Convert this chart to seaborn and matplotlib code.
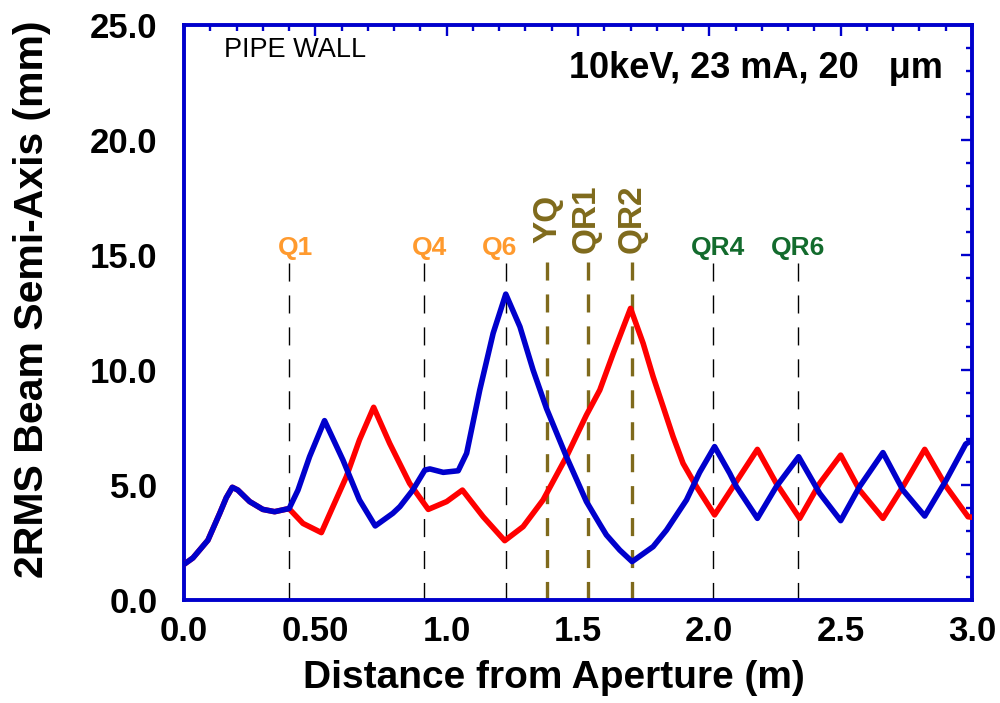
import matplotlib
matplotlib.use("Agg")
import matplotlib.pyplot as plt
import seaborn as sns
import pandas as pd
from matplotlib.ticker import MultipleLocator

# ---------------- data ----------------
blue_x = [0.0, 0.034, 0.091, 0.136, 0.161, 0.184, 0.205, 0.25, 0.30, 0.345, 0.389, 0.40,
          0.434, 0.478, 0.535, 0.605, 0.668, 0.728, 0.795, 0.822, 0.871, 0.917, 0.936,
          0.987, 1.044, 1.076, 1.126, 1.177, 1.225, 1.279, 1.329, 1.38, 1.456, 1.532,
          1.583, 1.608, 1.659, 1.706, 1.786, 1.837, 1.913, 1.963, 2.02, 2.078, 2.103,
          2.183, 2.255, 2.34, 2.42, 2.5, 2.572, 2.661, 2.737, 2.82, 2.902, 2.976, 3.0]
blue_y = [1.55, 1.83, 2.6, 3.77, 4.45, 4.9, 4.78, 4.28, 3.94, 3.84, 3.95, 3.97,
          4.78, 6.23, 7.8, 6.09, 4.35, 3.22, 3.77, 4.06, 4.78, 5.65, 5.70,
          5.55, 5.62, 6.38, 9.13, 11.6, 13.3, 11.88, 10.0, 8.33, 6.23, 4.28,
          3.3, 2.83, 2.17, 1.67, 2.32, 3.04, 4.35, 5.55, 6.67, 5.5, 4.93,
          3.55, 4.93, 6.23, 4.64, 3.45, 4.93, 6.41, 4.78, 3.65, 5.22, 6.78, 6.95]

red_x = [0.0, 0.034, 0.091, 0.136, 0.161, 0.184, 0.205, 0.25, 0.30, 0.345, 0.389, 0.40,
         0.453, 0.523, 0.567, 0.618, 0.668, 0.722, 0.783, 0.859, 0.93, 1.0, 1.06,
         1.139, 1.221, 1.291, 1.367, 1.456, 1.532, 1.583, 1.634, 1.70, 1.748, 1.786,
         1.824, 1.862, 1.9, 1.951, 2.02, 2.103, 2.183, 2.255, 2.344, 2.42, 2.5,
         2.572, 2.661, 2.737, 2.82, 2.902, 2.985, 3.0]
red_y = [1.55, 1.83, 2.6, 3.77, 4.45, 4.9, 4.78, 4.28, 3.94, 3.84, 3.95, 3.97,
         3.33, 2.93, 4.06, 5.36, 6.96, 8.38, 6.81, 5.07, 3.94, 4.28, 4.78,
         3.62, 2.58, 3.19, 4.35, 6.23, 8.04, 9.13, 10.72, 12.68, 11.16, 9.71,
         8.41, 7.1, 5.94, 4.93, 3.7, 5.15, 6.55, 5.07, 3.55, 5.07, 6.3,
         4.78, 3.55, 4.93, 6.55, 4.93, 3.62, 3.6]

quad_names = ["Q1", "Q4", "Q6", "QR4", "QR6"]
quad_pos = [0.398, 0.914, 1.224, 2.014, 2.336]
olive_names = ["YQ", "QR1", "QR2"]
olive_pos = [1.382, 1.538, 1.705]

xtick_vals = [0.0, 0.5, 1.0, 1.5, 2.0, 2.5, 3.0]
xtick_labels = ["0.0", "0.50", "1.0", "1.5", "2.0", "2.5", "3.0"]
ytick_vals = [0, 5, 10, 15, 20, 25]
ytick_labels = ["0.0", "5.0", "10.0", "15.0", "20.0", "25.0"]

title_text = "10keV, 23 mA, 20   \u03bcm"
wall_text = "PIPE WALL"
x_label = "Distance from Aperture (m)"
y_label = "2RMS Beam Semi-Axis (mm)"

# ---------------- style ----------------
sns.set_style("white")
plt.rcParams["font.family"] = ["Liberation Sans", "DejaVu Sans"]
plt.rcParams["lines.scale_dashes"] = False
plt.rcParams["text.color"] = "black"
plt.rcParams["axes.labelcolor"] = "black"
plt.rcParams["xtick.labelcolor"] = "black"
plt.rcParams["ytick.labelcolor"] = "black"

FRAME = "#0000CC"
BLUE = "#0000CC"
RED = "#FF0000"
ORANGE = "#FF9A2E"
GREEN = "#136B2D"
OLIVE = "#7F6A1C"

df = pd.concat([
    pd.DataFrame({"x": red_x, "y": red_y, "plane": "red"}),
    pd.DataFrame({"x": blue_x, "y": blue_y, "plane": "blue"}),
], ignore_index=True)

fig = plt.figure(figsize=(10, 7.03), dpi=100)
ax = fig.add_axes([0.184, 0.1465, 0.788, 0.8179])

# magnet markers
line_top = 14.65
for xp in quad_pos:
    ax.plot([xp, xp], [line_top, 0], color="black", lw=1.0, dashes=(13, 10), zorder=1)
for xp in olive_pos:
    ax.plot([xp, xp], [line_top + 0.05, 0], color=OLIVE, lw=2.4, dashes=(13, 10), zorder=1)

n_before = len(ax.get_lines())
sns.lineplot(data=df, x="x", y="y", hue="plane", hue_order=["red", "blue"],
             palette={"red": RED, "blue": BLUE}, estimator=None, sort=False,
             linewidth=4.0, legend=False, ax=ax, zorder=3)
for ln in ax.get_lines()[n_before:]:
    ln.set_linewidth(4.0)
    ln.set_solid_joinstyle("round")
    ln.set_solid_capstyle("round")

# labels for magnets
quad_label_dx = [0.026, 0.022, -0.022, 0.018, 0.003]
quad_colors = [ORANGE, ORANGE, ORANGE, GREEN, GREEN]
for name, xp, dx, c in zip(quad_names, quad_pos, quad_label_dx, quad_colors):
    ax.text(xp + dx, 15.0, name, color=c, fontsize=19, fontweight="bold",
            ha="center", va="baseline")
olive_label_dx = [0.003, -0.006, 0.002]
olive_label_y = [15.52, 15.09, 15.09]
for name, xp, dx, yb in zip(olive_names, olive_pos, olive_label_dx, olive_label_y):
    ax.text(xp + dx, yb, name, color=OLIVE, fontsize=24, fontweight="bold",
            rotation=90, ha="center", va="bottom")

ax.text(1.465, 22.7, title_text, fontsize=26, fontweight="bold", ha="left", va="baseline")
ax.text(0.152, 23.6, wall_text, fontsize=19.5, ha="left", va="baseline")

# axes
ax.set_xlim(0, 3.0)
ax.set_ylim(0, 25)
ax.set_xticks(xtick_vals, xtick_labels)
ax.set_yticks(ytick_vals, ytick_labels)
ax.xaxis.set_minor_locator(MultipleLocator(0.1))
ax.yaxis.set_minor_locator(MultipleLocator(1))
ax.tick_params(which="both", direction="in", top=True, right=True, color=FRAME,
               labelcolor="black")
ax.tick_params(which="major", length=8, width=1.7)
ax.tick_params(which="minor", length=4, width=1.7)
ax.tick_params(axis="x", which="major", labelsize=25, pad=11)
ax.tick_params(axis="y", which="major", labelsize=25, pad=19)
for lab in ax.get_xticklabels() + ax.get_yticklabels():
    lab.set_fontweight("bold")
for sp in ax.spines.values():
    sp.set_color(FRAME)
    sp.set_linewidth(2.8)
    sp.set_visible(True)

ax.set_xlabel(x_label, fontsize=28, fontweight="bold", color="black")
ax.set_ylabel(y_label, fontsize=29.5, fontweight="bold", color="black")
ax.xaxis.label.set_verticalalignment("baseline")
ax.xaxis.set_label_coords(0.4695, -88 / 575)
ax.yaxis.label.set_verticalalignment("center")
ax.yaxis.set_label_coords(-0.193, 0.5235)

fig.savefig("out.png", dpi=100)
